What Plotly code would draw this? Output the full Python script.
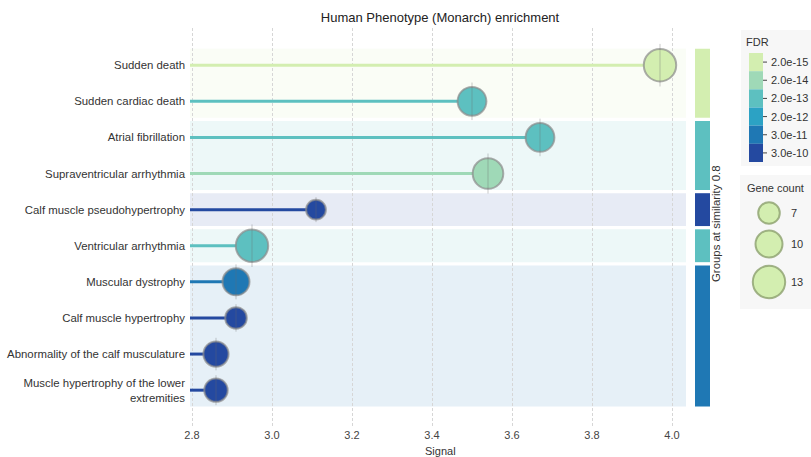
import plotly.graph_objects as go

# ---------------- data ----------------
terms = [
    "Sudden death",
    "Sudden cardiac death",
    "Atrial fibrillation",
    "Supraventricular arrhythmia",
    "Calf muscle pseudohypertrophy",
    "Ventricular arrhythmia",
    "Muscular dystrophy",
    "Calf muscle hypertrophy",
    "Abnormality of the calf musculature",
    "Muscle hypertrophy of the lower<br>extremities",
]
signal = [3.97, 3.50, 3.67, 3.54, 3.11, 2.95, 2.91, 2.91, 2.86, 2.86]
gene_count = [13, 11, 11, 12, 6, 13, 10, 7, 9, 8]
fdr_level = [0, 2, 2, 1, 5, 2, 4, 5, 5, 5]  # index into fdr_labels

fdr_labels = ["2.0e-15", "2.0e-14", "2.0e-13", "2.0e-12", "3.0e-11", "3.0e-10"]
fdr_colors = ["#d3eeb0", "#9fd9b7", "#5dc0c0", "#2ca2c4", "#1f78b4", "#2449a0"]

# groups at similarity 0.8: (first row, last row, colour level)
groups = [(0, 1, 0), (2, 3, 2), (4, 4, 5), (5, 5, 2), (6, 9, 4)]

size_legend = [7, 10, 13]

# ---------------- layout helpers (pixels) ----------------
W, H = 811, 457
L, R, T, B = 190, 688, 28, 427


def px(x):
    return (x - L) / (R - L)


def py(y):
    return (B - y) / (B - T)


def dsize(c):
    return 9 + 1.8 * c


def rgba(hexc, a):
    h = hexc.lstrip("#")
    r, g, b = int(h[0:2], 16), int(h[2:4], 16), int(h[4:6], 16)
    return f"rgba({r},{g},{b},{a})"


fig = go.Figure()
ys = list(range(len(terms)))
cols = [fdr_colors[i] for i in fdr_level]

# lollipop stems
for i in ys:
    fig.add_trace(go.Scatter(
        x=[2.795, signal[i]], y=[i, i], mode="lines",
        line=dict(color=cols[i], width=3), showlegend=False, hoverinfo="skip"))

# markers
fig.add_trace(go.Scatter(
    x=signal, y=ys, mode="markers",
    marker=dict(size=[dsize(c) for c in gene_count], color=cols,
                line=dict(color="rgba(140,140,140,0.7)", width=2), opacity=1),
    showlegend=False))
fig.add_trace(go.Scatter(
    x=signal, y=ys, mode="markers",
    marker=dict(symbol="line-ns", size=[dsize(c) - 2 for c in gene_count],
                line=dict(color="rgba(110,110,110,0.5)", width=1)),
    showlegend=False, hoverinfo="skip"))

shapes = []
annotations = []
gap = 0.045
for (a, b, lvl) in groups:
    shapes.append(dict(type="rect", xref="paper", yref="y", x0=0, x1=px(686),
                       y0=a - 0.5 + gap, y1=b + 0.5 - gap, layer="below",
                       fillcolor=rgba(fdr_colors[lvl], 0.11), line=dict(width=0)))
    shapes.append(dict(type="rect", xref="paper", yref="y", x0=px(695), x1=px(710),
                       y0=a - 0.5 + gap, y1=b + 0.5 - gap,
                       fillcolor=fdr_colors[lvl], line=dict(width=0)))

annotations.append(dict(text="Groups at similarity 0.8", textangle=-90,
                        xref="paper", yref="paper", x=px(724), y=py(224),
                        showarrow=False, font=dict(size=11.4, color="#333")))
annotations.append(dict(text="Signal", xref="paper", yref="paper", x=px(440), y=py(451),
                        xanchor="center", yanchor="middle", showarrow=False,
                        font=dict(size=11, color="#333")))

# FDR legend panel
shapes.append(dict(type="rect", xref="paper", yref="paper", x0=px(741), x1=px(811),
                   y0=py(30), y1=py(166), fillcolor="#f7f7f7", line=dict(width=0)))
annotations.append(dict(text="FDR", xref="paper", yref="paper", x=px(744), y=py(42),
                        xanchor="left", yanchor="middle", showarrow=False,
                        font=dict(size=11, color="#333")))
bh = 109 / len(fdr_labels)
for k, (lab, c) in enumerate(zip(fdr_labels, fdr_colors)):
    y0 = 53 + k * bh
    shapes.append(dict(type="rect", xref="paper", yref="paper", x0=px(749), x1=px(763),
                       y0=py(y0 + bh), y1=py(y0), fillcolor=c, line=dict(width=0)))
    yc = y0 + bh / 2
    shapes.append(dict(type="line", xref="paper", yref="paper", x0=px(763), x1=px(767),
                       y0=py(yc), y1=py(yc), line=dict(color="#444", width=1)))
    annotations.append(dict(text=lab, xref="paper", yref="paper", x=px(769), y=py(yc),
                            xanchor="left", yanchor="middle", showarrow=False,
                            font=dict(size=11, color="#333")))

# Gene count legend panel
shapes.append(dict(type="rect", xref="paper", yref="paper", x0=px(740), x1=px(811),
                   y0=py(175), y1=py(309), fillcolor="#f7f7f7", line=dict(width=0)))
annotations.append(dict(text="Gene count", xref="paper", yref="paper", x=px(745), y=py(188),
                        xanchor="left", yanchor="middle", showarrow=False,
                        font=dict(size=11, color="#333")))
for cnt, yc in zip(size_legend, [213, 244, 282]):
    r = dsize(cnt) / 2
    shapes.append(dict(type="circle", xref="paper", yref="paper",
                       xsizemode="pixel", ysizemode="pixel",
                       xanchor=px(769), yanchor=py(yc), x0=-r, x1=r, y0=-r, y1=r,
                       fillcolor=fdr_colors[0], line=dict(color="rgba(140,160,110,0.8)", width=2)))
    annotations.append(dict(text=str(cnt), xref="paper", yref="paper", x=px(789), y=py(yc),
                            xanchor="left", yanchor="middle", showarrow=False,
                            font=dict(size=11, color="#333")))

fig.update_layout(
    width=W, height=H,
    margin=dict(l=L, r=W - R, t=T, b=H - B),
    paper_bgcolor="white", plot_bgcolor="white",
    font=dict(family="Liberation Sans, Arial, sans-serif", size=11, color="#333"),
    title=dict(text="Human Phenotype (Monarch) enrichment", x=px(440), xref="paper",
               y=1 - 17 / H, yanchor="middle", xanchor="center",
               font=dict(size=13, color="#222")),
    xaxis=dict(range=[2.795, 4.04], tickvals=[2.8, 3.0, 3.2, 3.4, 3.6, 3.8, 4.0],
               ticktext=["2.8", "3.0", "3.2", "3.4", "3.6", "3.8", "4.0"],
               showgrid=True, gridcolor="#d6d6d6", griddash="3px,2px", gridwidth=1,
               zeroline=False, showline=False, ticks="", automargin=False,
               tickfont=dict(size=11, color="#444")),
    yaxis=dict(range=[10.02, -1.03], tickvals=ys, ticktext=terms, showgrid=False,
               zeroline=False, showline=False, ticks="", ticklabelstandoff=4,
               automargin=False, tickfont=dict(size=11.4, color="#333")),
    shapes=shapes, annotations=annotations,
)

fig.write_html("out.html", config={"displayModeBar": False},
               post_script="document.body.style.margin='0';"
                           "document.body.style.overflow='hidden';")
